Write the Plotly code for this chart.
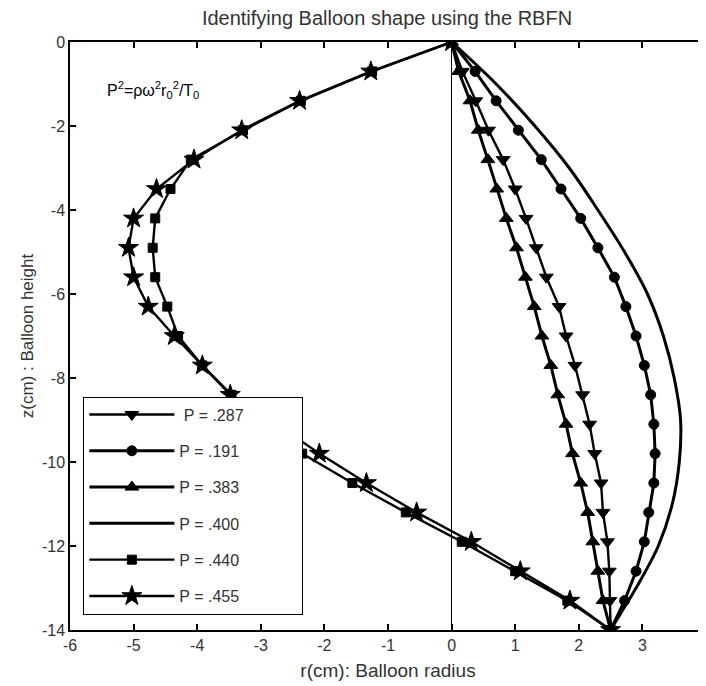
import plotly.graph_objects as go

# z positions of the markers (cm); every series is sampled at the same heights
z = [0, -0.7, -1.4, -2.1, -2.8, -3.5, -4.2, -4.9, -5.6, -6.3, -7.0,
     -7.7, -8.4, -9.1, -9.8, -10.5, -11.2, -11.9, -12.6, -13.3, -14.0]

r_287 = [0, 0.17, 0.38, 0.58, 0.81, 1.00, 1.17, 1.33, 1.49, 1.69, 1.80,
         1.94, 2.06, 2.17, 2.25, 2.35, 2.38, 2.45, 2.48, 2.49, 2.50]
r_191 = [0, 0.37, 0.70, 1.05, 1.41, 1.72, 2.03, 2.30, 2.56, 2.74, 2.90,
         3.03, 3.13, 3.18, 3.20, 3.18, 3.10, 3.03, 2.90, 2.72, 2.50]
r_383 = [0, 0.11, 0.29, 0.42, 0.57, 0.71, 0.86, 1.02, 1.16, 1.30, 1.42,
         1.56, 1.67, 1.80, 1.90, 2.03, 2.14, 2.22, 2.30, 2.38, 2.50]
r_440 = [0, -1.25, -2.37, -3.28, -4.10, -4.42, -4.66, -4.70, -4.66, -4.47, -4.30,
         -3.92, -3.46, -2.90, -2.35, -1.56, -0.72, 0.16, 1.00, 1.82, 2.50]
r_455 = [0, -1.27, -2.39, -3.30, -4.05, -4.64, -5.00, -5.08, -5.00, -4.77, -4.36,
         -3.92, -3.48, -2.75, -2.08, -1.34, -0.55, 0.31, 1.08, 1.86, 2.50]

# P = .400 : smooth curve without markers
z_400 = [0, -1, -2, -3, -4, -5, -6, -7, -8, -9, -10, -11, -12, -13, -13.5, -14]
r_400 = [0, 0.70, 1.31, 1.85, 2.30, 2.72, 3.08, 3.33, 3.50, 3.60, 3.58, 3.47,
         3.25, 2.90, 2.70, 2.50]

labels = [" P = .287", "P = .191", "P = .383", "P = .400", "P = .440", "P = .455"]

x_ticks = [-6, -5, -4, -3, -2, -1, 0, 1, 2, 3, 4]
y_ticks = [0, -2, -4, -6, -8, -10, -12, -14]

FONT = "Liberation Sans, Arial, sans-serif"
TXT = "#333333"
PAD = "\u00a0" * 12

fig = go.Figure()

series = [
    (labels[0], r_287, z, "triangle-down", 12, 2.4),
    (labels[1], r_191, z, "circle", 10, 3.0),
    (labels[2], r_383, z, "triangle-up", 12, 3.0),
    (labels[3], r_400, z_400, None, 0, 3.0),
    (labels[4], r_440, z, "square", 9, 2.4),
    (labels[5], r_455, z, "star", 15, 2.4),
]

for i, (name, rr, zz, sym, ms, lw) in enumerate(series):
    if sym is None:
        fig.add_trace(go.Scatter(
            x=rr, y=zz, mode="lines", name=name + PAD, legendgroup=str(i),
            line=dict(color="black", width=lw, shape="spline", smoothing=1.0)))
    else:
        fig.add_trace(go.Scatter(
            x=rr, y=zz, mode="lines+markers", name=name + PAD, legendgroup=str(i),
            line=dict(color="black", width=lw),
            marker=dict(symbol=sym, size=ms, color="black",
                        line=dict(color="black", width=1))))

fig.add_annotation(
    x=-5.45, y=-1.14, xref="x", yref="y", xanchor="left", yanchor="middle",
    text="P<sup>2</sup>=ρω<sup>2</sup>r<sub>0</sub><sup>2</sup>/T<sub>0</sub>",
    showarrow=False, font=dict(family=FONT, size=16, color="black"))

axis_common = dict(
    showline=True, linecolor="black", linewidth=1.5, mirror="ticks",
    ticks="inside", ticklen=6, tickwidth=1.5, tickcolor="black",
    showgrid=False, automargin=True, ticklabeloverflow="allow",
    tickfont=dict(family=FONT, size=16, color=TXT))

fig.update_xaxes(
    range=[-6, 4], tickvals=x_ticks, ticktext=[str(v) for v in x_ticks],
    zeroline=True, zerolinecolor="black", zerolinewidth=1,
    title=dict(text="r(cm): Balloon radius", font=dict(family=FONT, size=19, color=TXT),
               standoff=11),
    **axis_common)
fig.update_yaxes(
    range=[-14, 0], tickvals=y_ticks, ticktext=[str(v) for v in y_ticks],
    zeroline=False,
    title=dict(text="z(cm) : Balloon height", font=dict(family=FONT, size=17, color=TXT),
               standoff=4),
    **axis_common)

# the page places the figure 8 px from the window's top-left corner,
# so the figure is 8 px smaller than the window and margins are shifted
fig.update_layout(
    width=698, height=678,
    margin=dict(l=62, r=0, t=34, b=56, autoexpand=False),
    paper_bgcolor="white", plot_bgcolor="white",
    title=dict(text="Identifying Balloon shape using the RBFN", x=0.543, xanchor="center",
               y=0.985, yanchor="middle",
               font=dict(family=FONT, size=20, color=TXT)),
    showlegend=True,
    legend=dict(x=0.021, y=0.397, xanchor="left", yanchor="top",
                bgcolor="white", bordercolor="black", borderwidth=1,
                font=dict(family=FONT, size=16, color=TXT),
                tracegroupgap=12.5, itemwidth=85, traceorder="grouped"),
)

fig.write_html("out.html")
